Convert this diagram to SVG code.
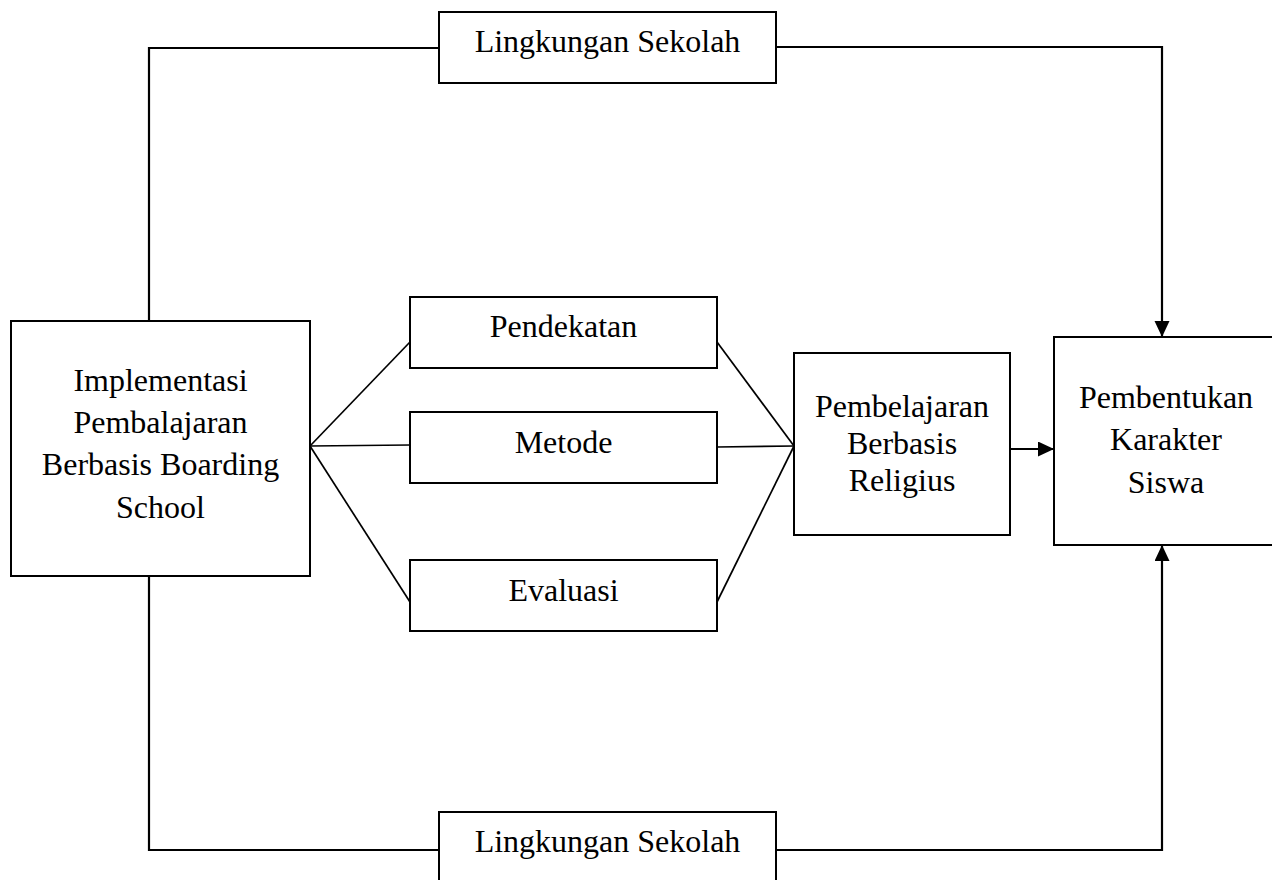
<svg xmlns="http://www.w3.org/2000/svg" width="1272" height="880" viewBox="0 0 1272 880">
  <defs>
    <style>
      .box { fill: #ffffff; stroke: #000000; stroke-width: 2; }
      .lbl { font-family: "Liberation Serif", "Times New Roman", serif; font-size: 32px; fill: #000000; text-anchor: middle; }
      .con { fill: none; stroke: #000000; stroke-width: 2.2; }
      .thin { fill: none; stroke: #000000; stroke-width: 1.7; }
    </style>
    <marker id="arr" markerUnits="userSpaceOnUse" markerWidth="18" markerHeight="18" refX="16" refY="7.5" orient="auto">
      <path d="M0,0 L16,7.5 L0,15 z" fill="#000000"/>
    </marker>
  </defs>
  <rect x="0" y="0" width="1272" height="880" fill="#ffffff"/>

  <g id="connectors">
    <path class="con" d="M439,48 H149 V320"/>
    <path class="con" d="M776,47 H1162 V337" marker-end="url(#arr)"/>
    <path class="con" d="M149,576 V850 H439"/>
    <path class="con" d="M776,850 H1162 V545" marker-end="url(#arr)"/>
    <path class="thin" d="M310,446 L410,342"/>
    <path class="thin" d="M310,446 L410,445"/>
    <path class="thin" d="M310,446 L410,602"/>
    <path class="thin" d="M717,342 L794,446"/>
    <path class="thin" d="M717,447 L794,446"/>
    <path class="thin" d="M717,602 L794,446"/>
    <path class="con" d="M1010,449 H1054" marker-end="url(#arr)"/>
  </g>

  <g id="lingkungan-top">
    <rect class="box" x="439" y="12" width="337" height="71"/>
    <text class="lbl" x="607.5" y="52">Lingkungan Sekolah</text>
  </g>

  <g id="implementasi">
    <rect class="box" x="11" y="321" width="299" height="255"/>
    <text class="lbl" x="160.5" y="391">Implementasi</text>
    <text class="lbl" x="160.5" y="433">Pembalajaran</text>
    <text class="lbl" x="160.5" y="475">Berbasis Boarding</text>
    <text class="lbl" x="160.5" y="518">School</text>
  </g>

  <g id="pendekatan">
    <rect class="box" x="410" y="297" width="307" height="71"/>
    <text class="lbl" x="563.5" y="337">Pendekatan</text>
  </g>

  <g id="metode">
    <rect class="box" x="410" y="412" width="307" height="71"/>
    <text class="lbl" x="563.5" y="453">Metode</text>
  </g>

  <g id="evaluasi">
    <rect class="box" x="410" y="560" width="307" height="71"/>
    <text class="lbl" x="563.5" y="601">Evaluasi</text>
  </g>

  <g id="pembelajaran-religius">
    <rect class="box" x="794" y="353" width="216" height="182"/>
    <text class="lbl" x="902" y="417">Pembelajaran</text>
    <text class="lbl" x="902" y="454">Berbasis</text>
    <text class="lbl" x="902" y="491">Religius</text>
  </g>

  <g id="pembentukan-karakter">
    <rect class="box" x="1054" y="337" width="222" height="208"/>
    <text class="lbl" x="1166" y="408">Pembentukan</text>
    <text class="lbl" x="1166" y="450">Karakter</text>
    <text class="lbl" x="1166" y="493">Siswa</text>
  </g>

  <g id="lingkungan-bottom">
    <rect class="box" x="439" y="812" width="337" height="72"/>
    <text class="lbl" x="607.5" y="852">Lingkungan Sekolah</text>
  </g>
</svg>
